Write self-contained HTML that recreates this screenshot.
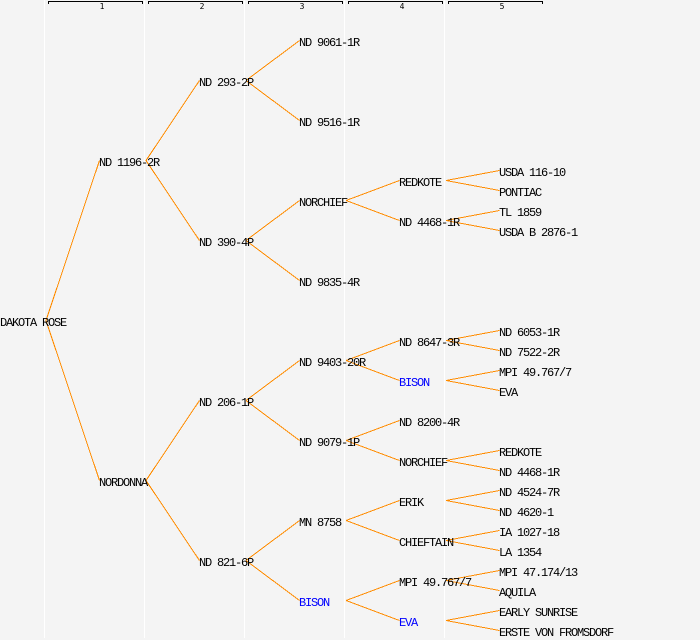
<!DOCTYPE html>
<html><head><meta charset="utf-8"><style>
html,body{margin:0;padding:0;background:#f4f4f4;width:700px;height:640px;overflow:hidden}
svg{display:block}
text{font-family:"Liberation Mono","DejaVu Sans Mono",monospace;font-size:12px;letter-spacing:-1.2px;fill:#000}
.b{fill:#0000ff}
.s{font-family:"DejaVu Sans Mono",monospace;font-size:8px;letter-spacing:0;text-anchor:middle}
</style></head><body>
<svg width="700" height="640" viewBox="0 0 700 640" xmlns="http://www.w3.org/2000/svg">
<rect width="700" height="640" fill="#f4f4f4"/>
<g fill="#fff"><rect x="44" y="0" width="1" height="638"/><rect x="144" y="0" width="1" height="638"/><rect x="244" y="0" width="1" height="638"/><rect x="344" y="0" width="1" height="638"/><rect x="444" y="0" width="1" height="638"/></g>
<g stroke="#000" fill="none" shape-rendering="crispEdges">
<path d="M48.5 4V1.5H142.5V4M148.5 4V1.5H242.5V4M248.5 4V1.5H342.5V4M348.5 4V1.5H442.5V4M448.5 4V1.5H542.5V4"/>
</g>
<text class="s" x="102" y="9">1</text><text class="s" x="202" y="9">2</text><text class="s" x="302" y="9">3</text><text class="s" x="402" y="9">4</text><text class="s" x="502" y="9">5</text>
<g stroke="#ff8c00" fill="none" stroke-width="1" shape-rendering="crispEdges">
<path d="M46 320.5L99.5 160.5M46 320.5L99.5 480.5"/>
<path d="M146 160.5L199.5 80.5M146 160.5L199.5 240.5M146 480.5L199.5 400.5M146 480.5L199.5 560.5"/>
<path d="M246 80.5L299.5 40.5M246 80.5L299.5 120.5M246 240.5L299.5 200.5M246 240.5L299.5 280.5M246 400.5L299.5 360.5M246 400.5L299.5 440.5M246 560.5L299.5 520.5M246 560.5L299.5 600.5"/>
<path d="M346 200.5L399.5 180.5M346 200.5L399.5 220.5M346 360.5L399.5 340.5M346 360.5L399.5 380.5M346 440.5L399.5 420.5M346 440.5L399.5 460.5M346 520.5L399.5 500.5M346 520.5L399.5 540.5M346 600.5L399.5 580.5M346 600.5L399.5 620.5"/>
<path d="M446 180.5L499.5 170.5M446 180.5L499.5 190.5M446 220.5L499.5 210.5M446 220.5L499.5 230.5M446 340.5L499.5 330.5M446 340.5L499.5 350.5M446 380.5L499.5 370.5M446 380.5L499.5 390.5M446 460.5L499.5 450.5M446 460.5L499.5 470.5M446 500.5L499.5 490.5M446 500.5L499.5 510.5M446 540.5L499.5 530.5M446 540.5L499.5 550.5M446 580.5L499.5 570.5M446 580.5L499.5 590.5M446 620.5L499.5 610.5M446 620.5L499.5 630.5"/>
</g>
<text x="0" y="326">DAKOTA ROSE</text>
<text x="99" y="166">ND 1196-2R</text><text x="99" y="486">NORDONNA</text>
<text x="199" y="86">ND 293-2P</text><text x="199" y="246">ND 390-4P</text><text x="199" y="406">ND 206-1P</text><text x="199" y="566">ND 821-6P</text>
<text x="299" y="46">ND 9061-1R</text><text x="299" y="126">ND 9516-1R</text><text x="299" y="206">NORCHIEF</text><text x="299" y="286">ND 9835-4R</text><text x="299" y="366">ND 9403-20R</text><text x="299" y="446">ND 9079-1P</text><text x="299" y="526">MN 8758</text><text class="b" x="299" y="606">BISON</text>
<text x="399" y="186">REDKOTE</text><text x="399" y="226">ND 4468-1R</text><text x="399" y="346">ND 8647-3R</text><text class="b" x="399" y="386">BISON</text><text x="399" y="426">ND 8200-4R</text><text x="399" y="466">NORCHIEF</text><text x="399" y="506">ERIK</text><text x="399" y="546">CHIEFTAIN</text><text x="399" y="586">MPI 49.767/7</text><text class="b" x="399" y="626">EVA</text>
<text x="499" y="176">USDA 116-10</text><text x="499" y="196">PONTIAC</text><text x="499" y="216">TL 1859</text><text x="499" y="236">USDA B 2876-1</text><text x="499" y="336">ND 6053-1R</text><text x="499" y="356">ND 7522-2R</text><text x="499" y="376">MPI 49.767/7</text><text x="499" y="396">EVA</text><text x="499" y="456">REDKOTE</text><text x="499" y="476">ND 4468-1R</text><text x="499" y="496">ND 4524-7R</text><text x="499" y="516">ND 4620-1</text><text x="499" y="536">IA 1027-18</text><text x="499" y="556">LA 1354</text><text x="499" y="576">MPI 47.174/13</text><text x="499" y="596">AQUILA</text><text x="499" y="616">EARLY SUNRISE</text><text x="499" y="636">ERSTE VON FROMSDORF</text>
</svg>
</body></html>
